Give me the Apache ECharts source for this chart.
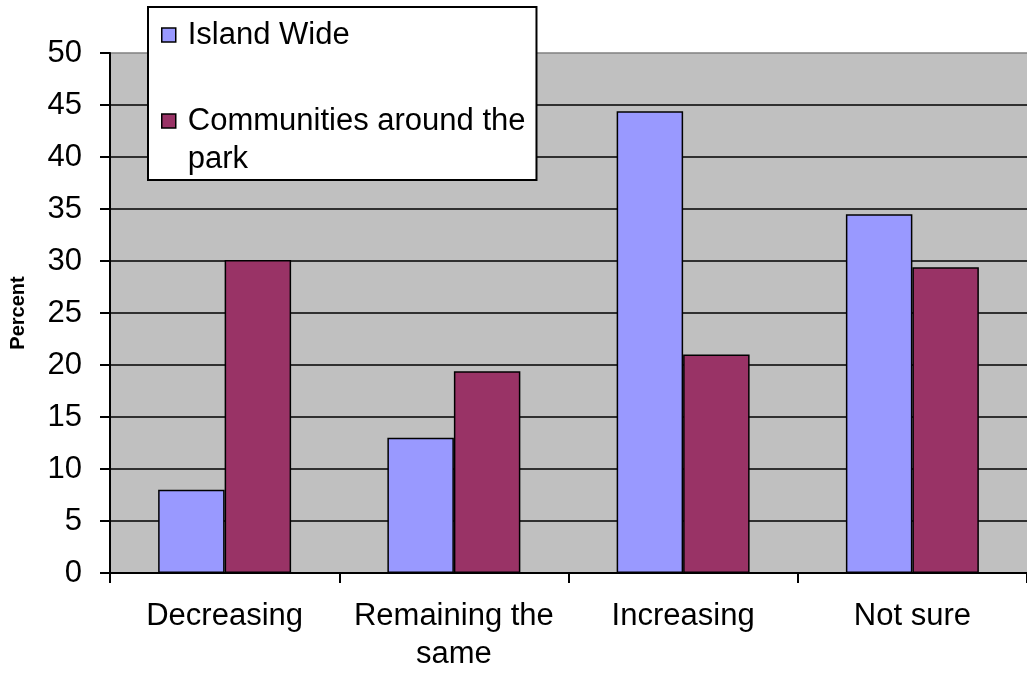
<!DOCTYPE html>
<html>
<head>
<meta charset="utf-8">
<script src="https://cdn.jsdelivr.net/npm/echarts@6/dist/echarts.min.js"></script>
<style>html,body{margin:0;padding:0;background:#fff;}#c{width:1027px;height:673px;}</style>
</head>
<body>
<div id="c"></div>
<script>
const categories = ['Decreasing', 'Remaining the\nsame', 'Increasing', 'Not sure'];
const islandWide = [8.0, 13.0, 44.4, 34.5];
const communities = [30.1, 19.4, 21.0, 29.4];
const seriesNames = ['Island Wide', 'Communities around the park'];
const yTicks = [0, 5, 10, 15, 20, 25, 30, 35, 40, 45, 50];

const FONT = '"Liberation Sans", Arial, sans-serif';
const chart = echarts.init(document.getElementById('c'));
const gridColors = yTicks.map((v, i) => i === yTicks.length - 1 ? '#808080' : '#000000');

chart.setOption({
  animation: false,
  textStyle: { fontFamily: FONT },
  grid: {
    left: 110, top: 53, width: 925, height: 524,
    show: true, backgroundColor: '#c0c0c0', borderWidth: 0,
    containLabel: false
  },
  legend: {
    orient: 'vertical',
    left: 148, top: 7,
    backgroundColor: '#ffffff',
    borderColor: '#000000', borderWidth: 2,
    padding: [9, 11, 2, 13],
    itemWidth: 14, itemHeight: 14,
    itemGap: 10,
    icon: 'rect',
    itemStyle: { borderColor: '#000', borderWidth: 1.5 },
    textStyle: { fontSize: 31, color: '#000', fontFamily: FONT, lineHeight: 38, padding: [0, 0, 0, 7] },
    formatter: function (name) {
      return name === seriesNames[1] ? '\nCommunities around the\npark' : name;
    },
    data: seriesNames
  },
  xAxis: {
    type: 'category',
    data: categories,
    axisLine: { lineStyle: { color: '#000', width: 2 } },
    axisTick: { show: true, interval: 0, length: 10, lineStyle: { color: '#000', width: 2 } },
    axisLabel: { interval: 0, fontSize: 31, color: '#000', margin: 24, lineHeight: 38, fontFamily: FONT },
    splitLine: { show: false }
  },
  yAxis: {
    type: 'value',
    min: 0, max: 50, interval: 5,
    name: 'Percent',
    nameLocation: 'middle',
    nameGap: 82,
    nameTextStyle: { fontSize: 20, fontWeight: 'bold', color: '#000', fontFamily: FONT },
    axisLine: { show: true, lineStyle: { color: '#000', width: 2 } },
    axisTick: { show: true, length: 10, lineStyle: { color: '#000', width: 2 } },
    axisLabel: { fontSize: 31, color: '#000', margin: 28, fontFamily: FONT },
    splitLine: { show: true, lineStyle: { color: gridColors, width: 1.5 } }
  },
  series: [
    {
      name: seriesNames[0], type: 'bar', data: islandWide,
      barGap: '0%', barCategoryGap: '42%',
      itemStyle: { color: '#9999ff', borderColor: '#000', borderWidth: 1.5 }
    },
    {
      name: seriesNames[1], type: 'bar', data: communities,
      barGap: '0%', barCategoryGap: '42%',
      itemStyle: { color: '#993366', borderColor: '#000', borderWidth: 1.5 }
    }
  ]
});
</script>
</body>
</html>
